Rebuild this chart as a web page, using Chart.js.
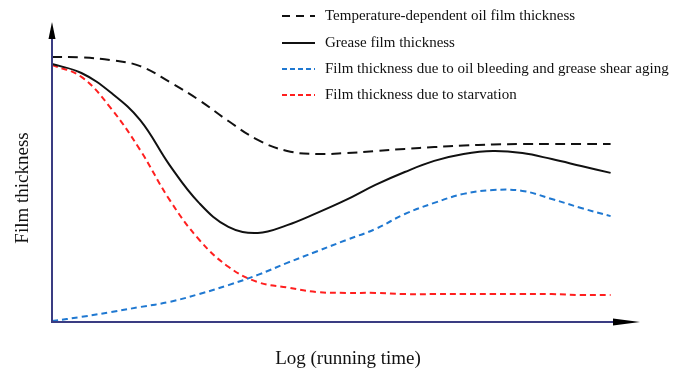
<!DOCTYPE html>
<html>
<head>
<meta charset="utf-8">
<script src="https://cdn.jsdelivr.net/npm/chart.js@4"></script>
<style>
  body { margin: 0; background: #fff; }
  #wrap { width: 683px; height: 372px; }
</style>
</head>
<body>
<div id="wrap"><canvas id="chart" width="683" height="372"></canvas></div>
<script>
// log(running time), arbitrary units
const logTime = [0, 0.5, 1, 1.5, 2, 2.5, 3, 3.5, 4, 4.5, 5, 5.5, 6, 6.5, 7, 7.5, 8, 8.5, 9, 9.5];

const tempOilFilm = [8.83, 8.82, 8.73, 8.53, 8.0, 7.4, 6.7, 6.07, 5.7, 5.6, 5.63, 5.7, 5.77, 5.83, 5.88, 5.92, 5.93, 5.93, 5.93, 5.93];
const greaseFilm = [8.6, 8.3, 7.65, 6.73, 5.23, 3.97, 3.17, 2.97, 3.23, 3.63, 4.07, 4.57, 5.0, 5.37, 5.6, 5.7, 5.63, 5.43, 5.2, 4.97];
const bleedingFilm = [0.03, 0.17, 0.33, 0.5, 0.67, 0.93, 1.23, 1.57, 1.97, 2.35, 2.73, 3.1, 3.6, 3.97, 4.27, 4.4, 4.37, 4.1, 3.8, 3.53];
const starvationFilm = [8.57, 8.17, 7.13, 5.73, 4.07, 2.75, 1.84, 1.33, 1.15, 1.0, 0.97, 0.97, 0.93, 0.93, 0.93, 0.93, 0.93, 0.93, 0.9, 0.9];

const seriesNames = [
  'Temperature-dependent oil film thickness',
  'Grease film thickness',
  'Film thickness due to oil bleeding and grease shear aging',
  'Film thickness due to starvation'
];
const xTitle = 'Log (running time)';
const yTitle = 'Film thickness';

const toPoints = arr => arr.map((v, i) => ({ x: logTime[i], y: v }));

const serif = '"Liberation Serif", "Times New Roman", serif';

function ds(label, data, color, dash) {
  return {
    label: label,
    data: toPoints(data),
    borderColor: color,
    borderWidth: 2,
    borderDash: dash,
    pointRadius: 0,
    fill: false,
    tension: 0.4
  };
}

// axes with arrows, axis titles and legend
const decor = {
  id: 'decor',
  afterDraw(c) {
    const ctx = c.ctx;
    const a = c.chartArea;
    ctx.save();
    ctx.strokeStyle = '#3a3c82';
    ctx.lineWidth = 2;
    ctx.beginPath();
    ctx.moveTo(a.left, 38);
    ctx.lineTo(a.left, a.bottom);
    ctx.lineTo(a.right - 26, a.bottom);
    ctx.stroke();

    ctx.fillStyle = '#000';
    ctx.beginPath();
    ctx.moveTo(a.left, a.top);
    ctx.lineTo(a.left - 3.5, 39);
    ctx.lineTo(a.left + 3.5, 39);
    ctx.closePath();
    ctx.fill();
    ctx.beginPath();
    ctx.moveTo(a.right, a.bottom);
    ctx.lineTo(a.right - 27, a.bottom - 3.5);
    ctx.lineTo(a.right - 27, a.bottom + 3.5);
    ctx.closePath();
    ctx.fill();

    ctx.fillStyle = '#111';
    ctx.font = '19px ' + serif;
    ctx.textAlign = 'center';
    ctx.textBaseline = 'middle';
    ctx.fillText(xTitle, 348, 359);
    ctx.save();
    ctx.translate(23, 188);
    ctx.rotate(-Math.PI / 2);
    ctx.fillText(yTitle, 0, 0);
    ctx.restore();

    // legend
    ctx.font = '15px ' + serif;
    ctx.textAlign = 'left';
    const rows = [16, 43, 69, 95];
    c.data.datasets.forEach((d, i) => {
      const y = rows[i];
      ctx.strokeStyle = d.borderColor;
      ctx.lineWidth = 2;
      ctx.setLineDash(i === 0 ? [8, 6] : (i === 1 ? [] : [5, 3]));
      ctx.beginPath();
      ctx.moveTo(282, y);
      ctx.lineTo(315, y);
      ctx.stroke();
      ctx.setLineDash([]);
      ctx.fillStyle = '#111';
      ctx.fillText(d.label, 325, y);
    });
    ctx.restore();
  }
};

new Chart(document.getElementById('chart'), {
  type: 'line',
  data: {
    datasets: [
      ds(seriesNames[0], tempOilFilm, '#111111', [10, 6]),
      ds(seriesNames[1], greaseFilm, '#111111', []),
      ds(seriesNames[2], bleedingFilm, '#1f78d1', [6, 4]),
      ds(seriesNames[3], starvationFilm, '#ff1f1f', [6, 4])
    ]
  },
  options: {
    responsive: false,
    devicePixelRatio: 1,
    animation: false,
    layout: { padding: { left: 52, right: 43, top: 22, bottom: 50 } },
    scales: {
      x: { type: 'linear', min: 0, max: 10, display: false },
      y: { min: 0, max: 10, display: false }
    },
    plugins: {
      legend: { display: false },
      tooltip: { enabled: false }
    }
  },
  plugins: [decor]
});
</script>
</body>
</html>
